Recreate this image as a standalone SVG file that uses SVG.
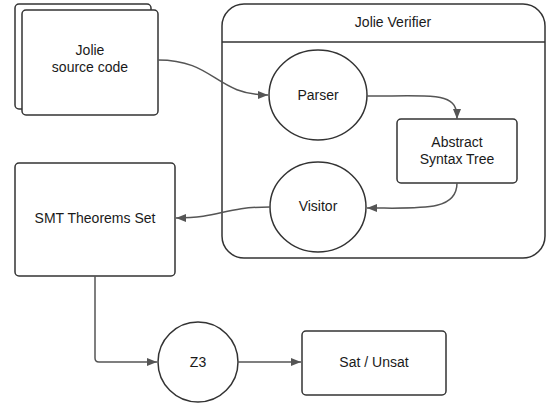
<svg xmlns="http://www.w3.org/2000/svg" width="547" height="404" viewBox="0 0 547 404">
<style>
.box{fill:#fff;stroke:#333;stroke-width:1.5}
.lbl{font-family:"Liberation Sans",Arial,sans-serif;font-size:14px;fill:#1a1a1a;text-anchor:middle;dominant-baseline:central}
.edge{fill:none;stroke:#555;stroke-width:1.5}
</style>
<defs>
<marker id="arr" viewBox="0 0 10 8" refX="10" refY="4" markerWidth="10" markerHeight="8" markerUnits="userSpaceOnUse" orient="auto">
<path d="M0,0 L10,4 L0,8 Z" fill="#555"/>
</marker>
</defs>
<rect width="547" height="404" fill="#fff"/>
<g id="verifier">
<rect class="box" x="222" y="4" width="323" height="254" rx="22"/>
<line x1="222" y1="42" x2="545" y2="42" stroke="#333" stroke-width="1.5"/>
<text class="lbl" x="393" y="22">Jolie Verifier</text>
</g>
<g id="source">
<rect class="box" x="15" y="4" width="136" height="105" rx="4"/>
<rect class="box" x="22" y="10" width="136" height="105" rx="4"/>
<text class="lbl" x="90" y="50">Jolie</text>
<text class="lbl" x="90" y="67">source code</text>
</g>
<g id="parser">
<ellipse class="box" cx="318" cy="95" rx="49" ry="45"/>
<text class="lbl" x="318" y="95">Parser</text>
</g>
<g id="ast">
<rect class="box" x="397" y="119" width="120" height="64" rx="4"/>
<text class="lbl" x="457" y="142">Abstract</text>
<text class="lbl" x="457" y="159">Syntax Tree</text>
</g>
<g id="visitor">
<ellipse class="box" cx="318" cy="207" rx="48" ry="45"/>
<text class="lbl" x="318" y="206">Visitor</text>
</g>
<g id="smt">
<rect class="box" x="15" y="163" width="160" height="113" rx="4"/>
<text class="lbl" x="95" y="218">SMT Theorems Set</text>
</g>
<g id="z3">
<ellipse class="box" cx="198" cy="362" rx="40" ry="40"/>
<text class="lbl" x="198" y="362">Z3</text>
</g>
<g id="result">
<rect class="box" x="302" y="331" width="144" height="64" rx="4"/>
<text class="lbl" x="374" y="362">Sat / Unsat</text>
</g>
<g id="connectors">
<path class="edge" d="M158,60 C215,60 215,95 268,95" marker-end="url(#arr)"/>
<path class="edge" d="M367,96 C440,96 457,92 457,119" marker-end="url(#arr)"/>
<path class="edge" d="M457,183 C457,212 420,208 367,208" marker-end="url(#arr)"/>
<path class="edge" d="M270,207 C222,207 222,218 176,218" marker-end="url(#arr)"/>
<path class="edge" d="M95,276 L95,358 Q95,362 99,362 L157,362" marker-end="url(#arr)"/>
<path class="edge" d="M238,362 L301,362" marker-end="url(#arr)"/>
</g>
</svg>
